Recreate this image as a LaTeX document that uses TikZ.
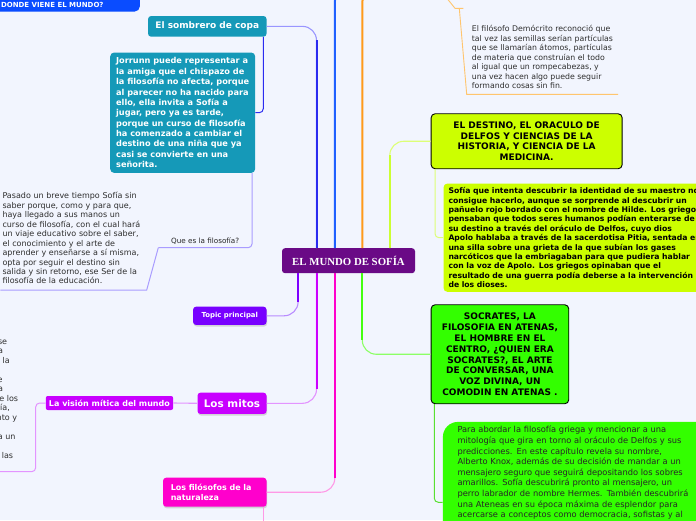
\documentclass[tikz,border=0pt]{standalone}
\usepackage{fontspec}
\setmainfont{DejaVu Sans}
\newfontfamily\rootfont{Liberation Serif}
\usepackage{xcolor}
\usetikzlibrary{shadows, calc, positioning}

\definecolor{pagebg}{HTML}{F2F5FE}
\definecolor{inkgray}{HTML}{2E2E2E}
\definecolor{rootpurple}{HTML}{6A0A86}
\definecolor{tealbox}{HTML}{1599B8}
\definecolor{dondeblue}{HTML}{0A4CFF}
\definecolor{topicviolet}{HTML}{7800FF}
\definecolor{mitopurple}{HTML}{C800FF}
\definecolor{filopink}{HTML}{FF00CC}
\definecolor{limegreen}{HTML}{CCFF00}
\definecolor{brightgreen}{HTML}{33FF00}
% branch colours: trunk / pale end
\definecolor{brsomb}{HTML}{2B2BF0}
\definecolor{brsombpale}{HTML}{9A96FF}
\definecolor{brblue}{HTML}{2060FF}
\definecolor{brorange}{HTML}{FF9A1A}
\definecolor{brlime}{HTML}{CCFF33}
\definecolor{brlimepale}{HTML}{DDFF77}
\definecolor{brtopic}{HTML}{7F00FF}
\definecolor{brtopicpale}{HTML}{B98CFF}
\definecolor{brmito}{HTML}{CC00FF}
\definecolor{brmitopale}{HTML}{E394FF}
\definecolor{brfilo}{HTML}{FF00CC}
\definecolor{brfilopale}{HTML}{FF99E6}
\definecolor{brgreen}{HTML}{44FF11}
\definecolor{brgreenpale}{HTML}{8CFF66}
\definecolor{lavender}{HTML}{A99CFF}
\definecolor{demoorange}{HTML}{FFC56E}

\tikzstyle{rootbox} = [
  rectangle, rounded corners=3pt, fill=rootpurple, text=white,
  minimum width=133pt, minimum height=25pt, inner sep=0pt,
  font=\rootfont\bfseries\fontsize{10.8}{13}\selectfont
]
\tikzstyle{topicbox} = [rectangle, rounded corners=3pt, text=white, inner sep=0pt]
\tikzstyle{shadowed} = [drop shadow={shadow xshift=0.6pt, shadow yshift=-1.6pt, fill=black!30}]
\tikzstyle{framed} = [
  rectangle, draw=black, line width=0.9pt, rounded corners=4pt, text=black,
  align=center, inner sep=0pt, font=\bfseries\fontsize{9}{10.9}\selectfont
]
\tikzstyle{plaintext} = [text=inkgray, align=left, inner sep=0pt, font=\fontsize{8}{9.45}\selectfont]
\tikzstyle{trunk} = [line width=2pt]
\tikzstyle{twig} = [line width=1.1pt, rounded corners=14pt]
\tikzstyle{sublink} = [line width=1pt, rounded corners=4pt]
\tikzstyle{demoline} = [line width=0.9pt, demoorange]

\begin{document}
\begin{tikzpicture}[x=1pt, y=-1pt]

  \useasboundingbox (0,0) rectangle (696,520);
  \fill[pagebg] (0,0) rectangle (696,520);
  \clip (0,0) rectangle (696,520);

  % centre and left side
  \node[rootbox] (root) at (348.5,260.7) {EL MUNDO DE SOFÍA};

  \node[topicbox, fill=dondeblue, anchor=south east, minimum width=175pt,
        text height=30pt, text depth=1.8pt, inner ysep=2.6pt, rounded corners=5pt,
        font=\bfseries\fontsize{7}{8}\selectfont] (donde) at (140,11.7) {DONDE VIENE EL MUNDO?};

  \node[topicbox, fill=tealbox, anchor=east, minimum width=118.4pt, minimum height=20.7pt,
        font=\bfseries\fontsize{9}{11}\selectfont] (somb) at (266.7,26.35) {El sombrero de copa};

  \node[topicbox, fill=tealbox, anchor=north west, minimum width=145pt, inner xsep=4pt,
        minimum height=120.4pt, align=left, rounded corners=4pt,
        font=\bfseries\fontsize{8.2}{10.37}\selectfont] (jorr) at (110,52.3)
    {Jorrunn puede representar a\\la amiga que el chispazo de\\la filosofía no afecta, porque\\al parecer no ha nacido para\\ello, ella invita a Sofía a\\jugar, pero ya es tarde,\\porque un curso de filosofía\\ha comenzado a cambiar el\\destino de una niña que ya\\casi se convierte en una\\señorita.};

  \node[plaintext, anchor=south west, minimum width=93.4pt, inner ysep=3pt, align=center,
        text=black!85, font=\fontsize{7.2}{9}\selectfont] (qfil) at (158.3,247.7) {Que es la filosofía?};

  \node[plaintext, anchor=south east, text width=142pt, inner xsep=2pt, inner ysep=5.7pt] (pasado) at (146.7,290)
    {Pasado un breve tiempo Sofía sin\\saber porque, como y para que,\\haya llegado a sus manos un\\curso de filosofía, con el cual hará\\un viaje educativo sobre el saber,\\el conocimiento y el arte de\\aprender y enseñarse a sí misma,\\opta por seguir el destino sin\\salida y sin retorno, ese Ser de la\\filosofía de la educación.};

  \node[topicbox, shadowed, fill=topicviolet, anchor=east, minimum width=73.4pt, minimum height=18.3pt,
        font=\bfseries\fontsize{6.9}{8}\selectfont] (topic) at (266.7,315.8) {Topic principal};

  \node[topicbox, shadowed, fill=mitopurple, anchor=east, minimum width=69pt, minimum height=21.3pt,
        font=\bfseries\fontsize{10.4}{12}\selectfont] (mitos) at (266.7,403.3) {Los mitos};

  \node[topicbox, fill=mitopurple, anchor=east, minimum width=127.3pt, minimum height=14pt,
        rounded corners=2pt, font=\bfseries\fontsize{8}{9}\selectfont] (vision) at (173.3,403) {La visión mítica del mundo};

  \foreach \fx/\fy/\ft [count=\i] in {7.3/344/se, 3.3/353.5/a, 10/363/a la, 2.7/382/e, 3.3/391.5/a,
      18.3/401/e los, 10/410.5/{ía,}, 17.3/420/nto y, 15.7/439/a un, 13.3/458/las}
    \node[plaintext, anchor=base east] (frag\i) at (\fx,\fy) {\ft};

  \node[topicbox, shadowed, fill=filopink, anchor=east, text width=88pt, inner xsep=7.7pt,
        minimum height=29pt, align=left, font=\bfseries\fontsize{8}{10}\selectfont] (filos) at (266.7,492.2)
    {Los filósofos de la\\naturaleza};

  % right side
  \node[plaintext, anchor=south west, inner xsep=5pt, inner ysep=5pt,
        font=\fontsize{7.8}{9.5}\selectfont] (demo) at (466.7,94.3)
    {El filósofo Demócrito reconoció que\\tal vez las semillas serían partículas\\que se llamarían átomos, partículas\\de materia que construían el todo\\al igual que un rompecabezas, y\\una vez hacen algo puede seguir\\formando cosas sin fin.};

  \node[framed, fill=limegreen, anchor=north west, minimum width=191pt, minimum height=55pt,
        font=\bfseries\fontsize{9}{10.8}\selectfont] (destino) at (430.7,113.3)
    {EL DESTINO, EL ORACULO DE\\DELFOS Y CIENCIAS DE LA\\HISTORIA, Y CIENCIA DE LA\\MEDICINA.};

  \node[topicbox, fill=limegreen, text=black, anchor=north west, text width=300pt, inner xsep=5pt,
        minimum height=108.4pt, align=left, rounded corners=4pt,
        font=\bfseries\fontsize{7.7}{9.4}\selectfont] (sofia) at (443.3,183.3)
    {Sofía que intenta descubrir la identidad de su maestro no\\consigue hacerlo, aunque se sorprende al descubrir un\\pañuelo rojo bordado con el nombre de Hilde. Los griegos\\pensaban que todos seres humanos podían enterarse de\\su destino a través del oráculo de Delfos, cuyo dios\\Apolo hablaba a través de la sacerdotisa Pitia, sentada en\\una silla sobre una grieta de la que subían los gases\\narcóticos que la embriagaban para que pudiera hablar\\con la voz de Apolo. Los griegos opinaban que el\\resultado de una guerra podía deberse a la intervención\\de los dioses.};

  \node[framed, fill=brightgreen, anchor=north west, minimum width=137.6pt, minimum height=99pt,
        font=\bfseries\fontsize{9}{10.96}\selectfont] (socr) at (430.7,304.3)
    {SOCRATES, LA\\FILOSOFIA EN ATENAS,\\EL HOMBRE EN EL\\CENTRO, ¿QUIEN ERA\\SOCRATES?, EL ARTE\\DE CONVERSAR, UNA\\VOZ DIVINA, UN\\COMODIN EN ATENAS .};

  \node[plaintext, fill=brightgreen, text=black!85, anchor=north west, text width=300pt, inner xsep=14.6pt,
        inner ysep=4pt, text height=7pt, text depth=146.3pt, rounded corners=15pt,
        font=\fontsize{8.3}{10.6}\selectfont] (para) at (442.7,421.7)
    {Para abordar la filosofía griega y mencionar a una\\mitología que gira en torno al oráculo de Delfos y sus\\predicciones. En este capítulo revela su nombre,\\Alberto Knox, además de su decisión de mandar a un\\mensajero seguro que seguirá depositando los sobres\\amarillos. Sofía descubrirá pronto al mensajero, un\\perro labrador de nombre Hermes. También descubrirá\\una Ateneas en su época máxima de esplendor para\\acercarse a conceptos como democracia, sofistas y al};

  % free ends and bends
  \coordinate (up1) at ([xshift=34.7pt]root.north west);
  \coordinate (up2) at ([xshift=53pt]root.north west);
  \coordinate (up3) at ([xshift=80.5pt]root.north west);
  \coordinate (up4) at ([xshift=108pt]root.north west);
  \coordinate (dn1) at ([xshift=16.3pt]root.south west);
  \coordinate (dn2) at ([xshift=34.7pt]root.south west);
  \coordinate (dn3) at ([xshift=53pt]root.south west);
  \coordinate (dn4) at ([xshift=80.5pt]root.south west);
  \coordinate (bluetip) at (335,-5);
  \coordinate (orangetip) at (362.5,-5);
  \coordinate (mitobase) at (35.7,471.7);
  \coordinate (mitoedge) at (-5,471.7);
  \coordinate (filostail) at (263.3,525);
  \coordinate (demotop) at (447.5,-1);
  \coordinate (demoknee) at (459.3,8.3);
  \coordinate (parain) at ($(para.north west)+(0,80.6)$);

  % main branches
  \draw[trunk, brblue] (up2) -- (bluetip);
  \draw[trunk, brorange] (up3) -- (orangetip);

  \draw[twig, brsombpale] (up1) |- (somb.east);
  \draw[trunk, brsomb] (up1) -- ($(up1 |- somb.east)+(0,14)$);

  \draw[twig, brlimepale] (up4) |- (destino.west);
  \draw[trunk, brlime] (up4) -- ($(up4 |- destino.west)+(0,14)$);

  \draw[twig, brtopicpale] (dn1) |- (topic.east);
  \draw[trunk, brtopic] (dn1) -- ($(dn1 |- topic.east)+(0,-14)$);

  \draw[twig, brmitopale] (dn2) |- (mitos.east);
  \draw[trunk, brmito] (dn2) -- ($(dn2 |- mitos.east)+(0,-14)$);

  \draw[twig, brfilopale] (dn3) |- (filos.east);
  \draw[trunk, brfilo] (dn3) -- ($(dn3 |- filos.east)+(0,-14)$);

  \draw[twig, brgreenpale] (dn4) |- (socr.west);
  \draw[trunk, brgreen] (dn4) -- ($(dn4 |- socr.west)+(0,-14)$);

  % sub branches
  \draw[sublink, brsomb] ([xshift=-3.4pt]somb.south east) |- (jorr.east);
  \draw[sublink, lavender] ([xshift=-3.3pt]jorr.south east) |- (qfil.south west);
  \draw[line width=1pt, lavender] (qfil.south west) -- (pasado.south east) -- (pasado.south west);

  \draw[twig, brmitopale] (mitos.west) -- (vision.east);
  \draw[sublink, brmitopale] (vision.west) -| (mitobase) -- (mitoedge);
  \draw[sublink, brfilopale] ([xshift=-3.4pt]filos.south east) -- (filostail);

  \draw[demoline] (demotop) -- ++(7.5,9.3) -- ++(8.3,0);
  \draw[demoline] (demoknee) -- (demo.south west) -- (demo.south east);

  \draw[sublink, brlimepale] ([xshift=4.3pt]destino.south west) |- (sofia.west);
  \draw[sublink, brgreen!80!black!60!brgreenpale] ([xshift=3.6pt]socr.south west) |- (parain);

\end{tikzpicture}
\end{document}
